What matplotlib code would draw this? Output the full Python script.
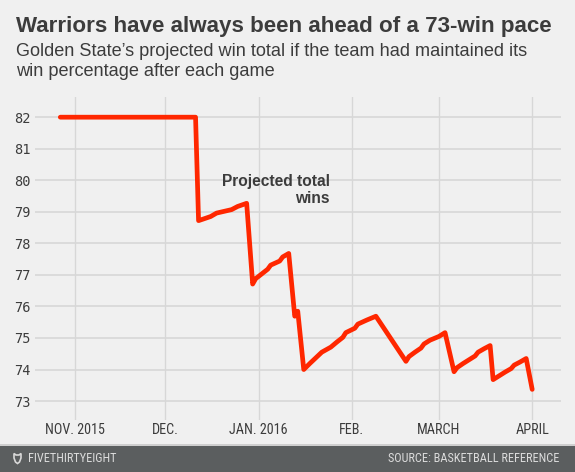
import matplotlib
matplotlib.use("Agg")
import matplotlib.pyplot as plt
from matplotlib.patches import Rectangle
import numpy as np
import datetime as dt
from matplotlib import font_manager

# ---------------- data ----------------
game_dates = [
    "2015-10-27", "2015-12-11", "2015-12-12", "2015-12-16", "2015-12-18", "2015-12-23",
    "2015-12-25", "2015-12-28", "2015-12-30", "2015-12-31", "2016-01-02", "2016-01-04",
    "2016-01-05", "2016-01-08", "2016-01-09", "2016-01-11", "2016-01-13", "2016-01-14",
    "2016-01-16", "2016-01-18", "2016-01-20", "2016-01-22", "2016-01-25", "2016-01-27",
    "2016-01-29", "2016-01-30", "2016-02-02", "2016-02-03", "2016-02-06", "2016-02-09",
    "2016-02-19", "2016-02-20", "2016-02-22", "2016-02-24", "2016-02-25", "2016-02-27",
    "2016-03-01", "2016-03-03", "2016-03-06", "2016-03-07", "2016-03-09", "2016-03-11",
    "2016-03-13", "2016-03-14", "2016-03-16", "2016-03-18", "2016-03-19", "2016-03-21",
    "2016-03-23", "2016-03-25", "2016-03-26", "2016-03-28", "2016-03-30", "2016-04-01",
]
projected_wins = [
    82.00, 82.00, 78.72, 78.85, 78.96, 79.07,
    79.17, 79.27, 76.71, 76.88, 77.03, 77.18,
    77.31, 77.44, 77.57, 77.68, 75.69, 75.85,
    74.00, 74.19, 74.37, 74.55, 74.71, 74.87,
    75.02, 75.17, 75.31, 75.44, 75.57, 75.69,
    74.26, 74.41, 74.55, 74.68, 74.81, 74.93,
    75.05, 75.17, 73.93, 74.06, 74.19, 74.31,
    74.43, 74.55, 74.66, 74.76, 73.68, 73.80,
    73.92, 74.03, 74.14, 74.24, 74.35, 73.37,
]
month_ticks = ["2015-11-01", "2015-12-01", "2016-01-01", "2016-02-01", "2016-03-01", "2016-04-01"]
month_labels = ["NOV. 2015", "DEC.", "JAN. 2016", "FEB.", "MARCH", "APRIL"]
y_ticks = [73, 74, 75, 76, 77, 78, 79, 80, 81, 82]

title = "Warriors have always been ahead of a 73-win pace"
subtitle = ["Golden State\u2019s projected win total if the team had maintained its",
            "win percentage after each game"]
annotation = ["Projected total", "wins"]
footer_left = "FIVETHIRTYEIGHT"
footer_right = "SOURCE: BASKETBALL REFERENCE"

# ---------------- style ----------------
available = {f.name for f in font_manager.fontManager.ttflist}
def pick(*names):
    for n in names:
        if n in available:
            return n
    return "DejaVu Sans"

SANS = pick("Liberation Sans", "Roboto", "DejaVu Sans")
NARROW = pick("Liberation Sans Narrow", "Roboto Condensed", "DejaVu Sans")
MONO = pick("DejaVu Sans Mono", "Liberation Mono")

BG = "#f0f0f0"
GRID = "#d7d7d7"
TXT = "#3c3c3c"
RED = "#ff2700"

W, H = 575, 472
fig = plt.figure(figsize=(W / 100, H / 100), dpi=100, facecolor=BG)

def fx(px):
    return px / W
def fy(py):
    return 1 - py / H

ax = fig.add_axes([fx(35), fy(420), fx(561) - fx(35), fy(97) - fy(420)])
ax.set_facecolor(BG)

x = [dt.datetime.strptime(d, "%Y-%m-%d") for d in game_dates]
ax.plot(x, projected_wins, color=RED, lw=3.4, solid_joinstyle="round",
        solid_capstyle="round", zorder=3)

xt = [dt.datetime.strptime(d, "%Y-%m-%d") for d in month_ticks]
ax.set_xlim(dt.datetime(2015, 10, 18, 14), dt.datetime(2016, 4, 10, 14))
ax.set_ylim(72.4, 82.64)

# grid
for t in xt:
    ax.axvline(t, color=GRID, lw=1.0, zorder=1)
for v in y_ticks:
    ax.axhline(v, color=GRID, lw=1.2, zorder=1)

ax.set_xticks(xt)
ax.set_xticklabels(month_labels, fontfamily=NARROW, fontsize=10.2, color=TXT)
ax.set_yticks(y_ticks)
ax.set_yticklabels([str(v) for v in y_ticks], fontfamily=MONO, fontsize=9.8, color=TXT)
ax.tick_params(axis="both", length=0)
ax.tick_params(axis="x", pad=2.5)
ax.tick_params(axis="y", pad=3.5)
for s in ax.spines.values():
    s.set_visible(False)

# title and subtitle
fig.text(fx(16), fy(32), title, fontfamily=SANS, fontweight="bold", fontsize=16.1,
         color=TXT, va="baseline", ha="left")
fig.text(fx(16), fy(56), subtitle[0], fontfamily=SANS, fontsize=13.1,
         color=TXT, va="baseline", ha="left")
fig.text(fx(16), fy(76), subtitle[1], fontfamily=SANS, fontsize=13.1,
         color=TXT, va="baseline", ha="left")

# annotation
fig.text(fx(330), fy(185.7), annotation[0], fontfamily=SANS, fontweight="bold",
         fontsize=11.2, color=TXT, va="baseline", ha="right")
fig.text(fx(330), fy(203.3), annotation[1], fontfamily=SANS, fontweight="bold",
         fontsize=11.2, color=TXT, va="baseline", ha="right")

# footer
fig.patches.append(Rectangle((0, 0), 1, fy(445.5), transform=fig.transFigure,
                             facecolor="#5b5e5f", edgecolor="none", zorder=0))
fig.patches.append(Rectangle((0, fy(445.5)), 1, 1.2 / H, transform=fig.transFigure,
                             facecolor="#cfcfcf", edgecolor="none", zorder=0))
# small fox-head logo
logo = np.array([[14, 453.5], [16, 455], [17.5, 455], [19, 455], [21, 453.5],
                 [21, 458], [19.5, 462], [17.5, 463.5], [15.5, 462], [14, 458]])
fig.patches.append(plt.Polygon(np.column_stack([logo[:, 0] / W, 1 - logo[:, 1] / H]),
                               closed=True, transform=fig.transFigure,
                               facecolor="none", edgecolor="#d8d8d8", lw=1.2))
fig.text(fx(28), fy(458.7), footer_left, fontfamily=NARROW, fontsize=8.8,
         color="#dcdcdc", va="center", ha="left")
fig.text(fx(559), fy(458.7), footer_right, fontfamily=NARROW, fontsize=8.8,
         color="#dcdcdc", va="center", ha="right")

fig.savefig("out.png", dpi=100, facecolor=BG)
